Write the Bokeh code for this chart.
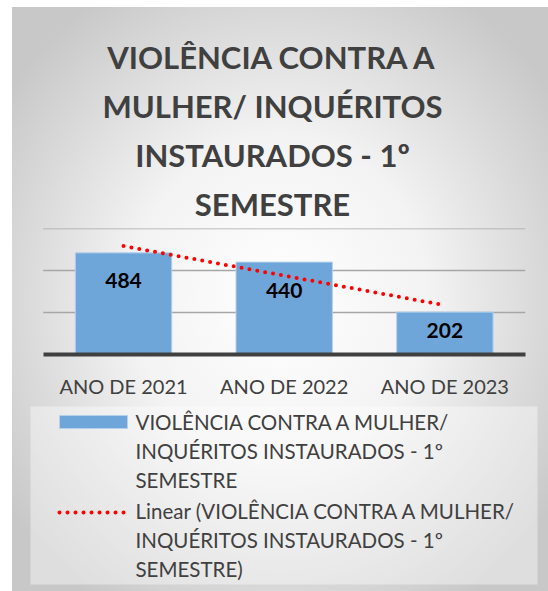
import numpy as np
from bokeh.plotting import figure
from bokeh.layouts import column
from bokeh.models import ColumnDataSource, Range1d, FixedTicker
from bokeh.core.properties import value
from bokeh.embed import file_html
from bokeh.resources import INLINE

# ---- data ----
categories = ["ANO DE 2021", "ANO DE 2022", "ANO DE 2023"]
values = [484, 440, 202]
title_lines = ["VIOLÊNCIA CONTRA A", "MULHER/ INQUÉRITOS", "INSTAURADOS - 1º", "SEMESTRE"]
legend_bar_lines = ["VIOLÊNCIA CONTRA A MULHER/", "INQUÉRITOS INSTAURADOS - 1º", "SEMESTRE"]
legend_trend_lines = ["Linear (VIOLÊNCIA CONTRA A MULHER/", "INQUÉRITOS INSTAURADOS - 1º", "SEMESTRE)"]
y_ticks = [200, 400, 600]

# category positions and linear trend (least squares over category index)
idx = np.arange(1, len(values) + 1)
slope, intercept = np.polyfit(idx, values, 1)
trend = list(slope * idx + intercept)

W = 548
FONT = "Lato"
TXT = "#404040"
BAR = "#6fa6da"
BAR_LINE = "#b4d0ec"

def pixel_fig(height, top):
    # a figure whose data coordinates equal page pixels
    f = figure(width=W, height=height, x_range=Range1d(0, W), y_range=Range1d(top + height, top),
               output_backend="svg", toolbar_location=None, tools="",
               x_axis_location=None, y_axis_location=None,
               min_border=0, min_border_left=0, min_border_right=0,
               min_border_top=0, min_border_bottom=0,
               border_fill_color=None, background_fill_color=None,
               outline_line_color=None)
    f.grid.visible = False
    return f

# ---- title ----
T_H = 222
pt = pixel_fig(T_H, 0)
pt.text(x=[272] * len(title_lines), y=[56 + 49 * i for i in range(len(title_lines))],
        text=title_lines, text_align="center", text_baseline="middle",
        text_font=value(FONT), text_font_style="bold", text_font_size="31px",
        text_color=TXT)

# ---- chart ----
C_H = 178
LEFT_PX, RIGHT_PX = 42.7, 524.7
lo, hi = idx[0] - 0.5, idx[-1] + 0.5
unit = (RIGHT_PX - LEFT_PX) / (hi - lo)
p = figure(width=W, height=C_H,
           x_range=Range1d(lo - LEFT_PX / unit, hi + (W - RIGHT_PX) / unit),
           y_range=Range1d(0, 600), y_axis_location=None,
           output_backend="svg", toolbar_location=None, tools="",
           min_border_left=0, min_border_right=0, min_border_top=6, min_border_bottom=43,
           border_fill_color=None, background_fill_color=None, outline_line_color=None)
p.grid.visible = False

# gridlines limited to the category span
p.segment(x0=[lo] * len(y_ticks), x1=[hi] * len(y_ticks), y0=y_ticks, y1=y_ticks,
          line_color="#a6a6a6", line_width=1.5)

src = ColumnDataSource(dict(x=idx, val=values, lab=[str(v) for v in values],
                            dy=[28, 28, 18]))
p.vbar(x="x", top="val", width=0.6, source=src, fill_color=BAR,
       line_color=BAR_LINE, line_width=1)
p.line(x=idx, y=trend, line_color="#ff0000", line_width=4,
       line_dash="0 8", line_cap="round")
p.text(x="x", y="val", text="lab", source=src, y_offset="dy",
       text_align="center", text_baseline="middle",
       text_font=value(FONT), text_font_style="bold", text_font_size="21px",
       text_color="#000000")

xa = p.xaxis[0]
xa.ticker = FixedTicker(ticks=[int(i) for i in idx])
xa.major_label_overrides = {int(i): c for i, c in zip(idx, categories)}
xa.bounds = (lo, hi)
xa.axis_line_color = "#404040"
xa.axis_line_width = 4
xa.major_tick_line_color = None
xa.minor_tick_line_color = None
xa.major_label_text_font = FONT
xa.major_label_text_font_size = "20px"
xa.major_label_text_color = TXT
xa.major_label_standoff = 13

# ---- legend ----
L_TOP = T_H + C_H
L_H = 591 - L_TOP
pl = pixel_fig(L_H, L_TOP)
pl.quad(left=30, right=537, top=406, bottom=584, fill_color="#ffffff", fill_alpha=0.4,
        line_color=None)
pl.quad(left=59, right=127, top=415, bottom=428, fill_color=BAR, line_color=BAR_LINE,
        line_width=1)
pl.line(x=[59, 127], y=[512, 512], line_color="#ff0000", line_width=4,
        line_dash="0 8", line_cap="round")
leg_lines = legend_bar_lines + legend_trend_lines
leg_y = [421.5, 450.5, 479.5, 510.5, 539.5, 568.5]
pl.text(x=[135] * len(leg_lines), y=leg_y, text=leg_lines, text_align="left",
        text_baseline="middle", text_font=value(FONT), text_font_size="20.5px",
        text_color=TXT)

layout = column(pt, p, pl, spacing=0,
                styles={"background": "radial-gradient(ellipse 62% 62% at 50% 50%, #ffffff 0%, "
                                      "#f3f3f3 45%, #c8c8c8 100%) 12px 7px / calc(100% - 12px) "
                                      "calc(100% - 7px) no-repeat, #ffffff"})

open("out.html", "w").write(file_html(layout, INLINE))
